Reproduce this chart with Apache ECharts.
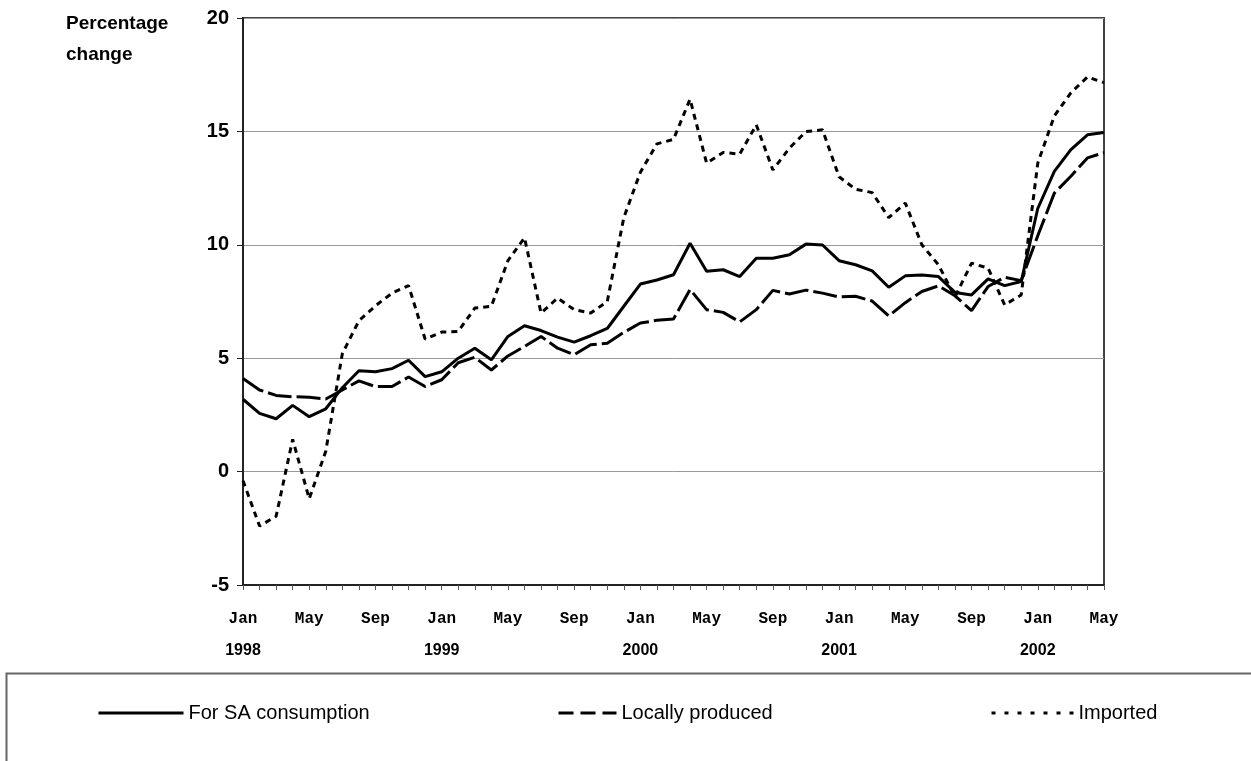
<!DOCTYPE html>
<html><head><meta charset="utf-8">
<script src="https://cdn.jsdelivr.net/npm/echarts@6/dist/echarts.min.js"></script>
<style>html,body{margin:0;padding:0;background:#fff}#c{width:1251px;height:761px}</style>
</head><body><div id="c"></div>
<script>
const categories = [
 'Jan 1998','Feb 1998','Mar 1998','Apr 1998','May 1998','Jun 1998','Jul 1998','Aug 1998','Sep 1998','Oct 1998','Nov 1998','Dec 1998',
 'Jan 1999','Feb 1999','Mar 1999','Apr 1999','May 1999','Jun 1999','Jul 1999','Aug 1999','Sep 1999','Oct 1999','Nov 1999','Dec 1999',
 'Jan 2000','Feb 2000','Mar 2000','Apr 2000','May 2000','Jun 2000','Jul 2000','Aug 2000','Sep 2000','Oct 2000','Nov 2000','Dec 2000',
 'Jan 2001','Feb 2001','Mar 2001','Apr 2001','May 2001','Jun 2001','Jul 2001','Aug 2001','Sep 2001','Oct 2001','Nov 2001','Dec 2001',
 'Jan 2002','Feb 2002','Mar 2002','Apr 2002','May 2002'
];
const saConsumption = [
 3.19,2.57,2.33,2.92,2.42,2.77,3.7,4.45,4.4,4.54,4.91,4.19,
 4.4,5.0,5.44,4.93,5.96,6.43,6.22,5.93,5.71,5.99,6.31,7.29,
 8.27,8.45,8.68,10.07,8.83,8.9,8.6,9.41,9.41,9.56,10.03,9.99,
 9.3,9.12,8.85,8.13,8.63,8.67,8.6,7.9,7.79,8.5,8.2,8.38,
 11.6,13.24,14.2,14.85,14.95
];
const locallyProduced = [
 4.10,3.60,3.36,3.30,3.28,3.2,3.6,4.0,3.75,3.75,4.17,3.75,
 4.05,4.8,5.04,4.48,5.1,5.52,5.96,5.44,5.15,5.59,5.66,6.14,
 6.55,6.67,6.73,8.03,7.14,7.02,6.6,7.14,7.99,7.83,8.0,7.87,
 7.7,7.73,7.52,6.86,7.45,7.94,8.19,7.75,7.1,8.16,8.57,8.42,
 10.4,12.28,13.02,13.83,14.06
];
const imported = [
 -0.4,-2.4,-1.97,1.42,-1.2,0.9,5.2,6.65,7.31,7.87,8.2,5.84,
 6.15,6.18,7.21,7.29,9.3,10.31,6.99,7.65,7.14,6.99,7.5,11.2,
 13.2,14.45,14.65,16.42,13.6,14.07,14.0,15.29,13.3,14.26,14.99,15.07,
 13.0,12.45,12.3,11.2,11.84,10.0,9.12,7.7,9.19,8.97,7.35,7.79,
 13.6,15.68,16.7,17.4,17.15
];
const seriesNames = ['For SA consumption','Locally produced','Imported'];
const yMin = -5, yMax = 20, yStep = 5;
const axisTitle = 'Percentage\nchange';

const chart = echarts.init(document.getElementById('c'), null, {renderer:'canvas'});
const mk = (name, data, type) => ({
  name, type:'line', data, symbol:'none', showSymbol:false, smooth:false,
  lineStyle:{color:'#000', width:3, type},
  itemStyle:{color:'#000'}
});
const legendBase = {
  orient:'horizontal', top:703, itemHeight:14, padding:0,
  itemStyle:{opacity:0},
  textStyle:{fontFamily:'Arial, Liberation Sans', fontSize:20, color:'#000'}
};
chart.setOption({
  backgroundColor:'#fff',
  animation:false,
  grid:{left:243, right:147, top:18, bottom:176, show:true, borderColor:'#444', borderWidth:2, backgroundColor:'transparent'},
  graphic:[
    {type:'rect', left:4, top:671, shape:{width:1400, height:200}, style:{fill:'none', stroke:'#666', lineWidth:2}},
    {type:'text', left:66, top:8, style:{text:axisTitle, font:'bold 19px Arial, Liberation Sans', fill:'#000', lineHeight:31}}
  ],
  legend:[
    Object.assign({}, legendBase, {left:97, itemWidth:85, data:[seriesNames[0]], lineStyle:{width:3, type:'solid'}}),
    Object.assign({}, legendBase, {left:557, itemWidth:58, data:[seriesNames[1]], lineStyle:{width:3, type:[15,7]}}),
    Object.assign({}, legendBase, {left:990, itemWidth:82, data:[seriesNames[2]], lineStyle:{width:3, type:[4,9]}})
  ],
  xAxis:{
    type:'category', data:categories, boundaryGap:false,
    axisLine:{onZero:false, lineStyle:{color:'#222', width:2}},
    axisTick:{interval:0, length:5, lineStyle:{color:'#555'}},
    splitLine:{show:false},
    axisLabel:{
      interval:3, margin:25, color:'#000',
      formatter:function(v){const p=v.split(' ');return p[0]==='Jan'?'{m|'+p[0]+'}\n{y|'+p[1]+'}':'{m|'+p[0]+'}';},
      rich:{
        m:{fontFamily:'Liberation Mono, Courier New, monospace', fontWeight:'bold', fontSize:16, lineHeight:18, color:'#000'},
        y:{fontFamily:'Arial, Liberation Sans', fontWeight:'bold', fontSize:16, lineHeight:46, color:'#000'}
      }
    }
  },
  yAxis:{
    type:'value', min:yMin, max:yMax, interval:yStep,
    axisLine:{show:true, lineStyle:{color:'#222', width:2}},
    axisTick:{show:true, length:6, lineStyle:{color:'#222'}},
    splitLine:{show:true, lineStyle:{color:'#999', width:1}},
    axisLabel:{margin:14, color:'#000', fontFamily:'Arial, Liberation Sans', fontWeight:'bold', fontSize:20}
  },
  series:[
    mk(seriesNames[0], saConsumption, 'solid'),
    mk(seriesNames[1], locallyProduced, [24,5]),
    mk(seriesNames[2], imported, [6,5])
  ]
});
</script></body></html>
